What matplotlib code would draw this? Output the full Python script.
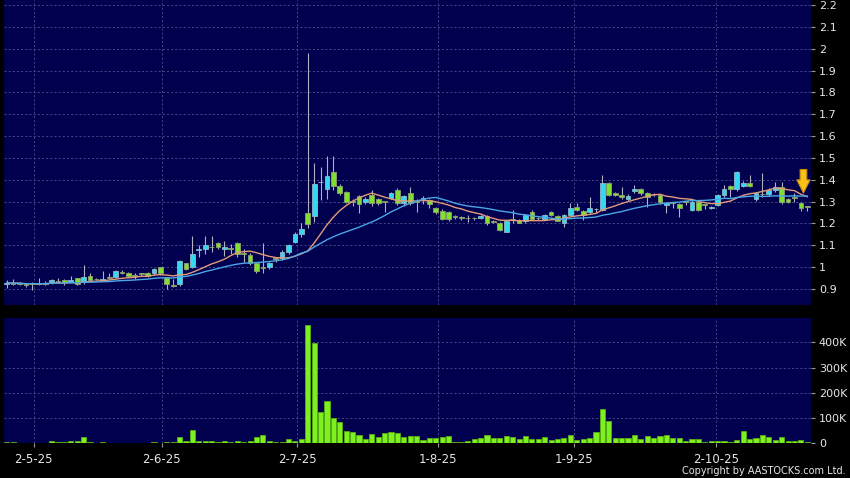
import matplotlib
matplotlib.use("Agg")
import matplotlib.pyplot as plt
import numpy as np
import pandas as pd

# ---------------- data ----------------
opens = [0.923, 0.928, 0.928, 0.920, 0.929, 0.929, 0.927, 0.932, 0.935, 0.941,
         0.932, 0.950, 0.930, 0.958, 0.945, 0.940, 0.950, 0.956, 0.980, 0.972,
         0.962, 0.970, 0.972, 0.972, 0.999, 0.953, 0.915, 0.921, 1.017, 0.999,
         1.080, 1.082, 1.092, 1.110, 1.082, 1.087, 1.110, 1.064, 1.057, 1.017,
         1.000, 0.999, 1.037, 1.040, 1.068, 1.117, 1.150, 1.249, 1.234, 1.388,
         1.356, 1.437, 1.371, 1.345, 1.300, 1.326, 1.298, 1.330, 1.310, 1.298,
         1.315, 1.353, 1.292, 1.338, 1.300, 1.310, 1.307, 1.270, 1.258, 1.251,
         1.229, 1.226, 1.224, 1.224, 1.227, 1.236, 1.209, 1.200, 1.162, 1.217,
         1.216, 1.211, 1.251, 1.224, 1.219, 1.251, 1.236, 1.200, 1.239, 1.277,
         1.258, 1.251, 1.264, 1.262, 1.387, 1.338, 1.330, 1.310, 1.348, 1.356,
         1.338, 1.334, 1.330, 1.284, 1.296, 1.289, 1.298, 1.262, 1.300, 1.285,
         1.272, 1.284, 1.330, 1.371, 1.356, 1.371, 1.387, 1.310, 1.334, 1.333,
         1.353, 1.368, 1.310, 1.318, 1.295, 1.275]
highs = [0.940, 0.947, 0.930, 0.928, 0.930, 0.949, 0.935, 0.947, 0.949, 0.944,
         0.959, 0.952, 1.010, 0.972, 0.950, 0.984, 0.972, 0.985, 0.985, 0.978,
         0.975, 0.975, 0.980, 0.995, 1.000, 0.955, 0.944, 1.035, 1.020, 1.143,
         1.100, 1.143, 1.143, 1.115, 1.120, 1.105, 1.115, 1.085, 1.065, 1.020,
         1.109, 1.025, 1.045, 1.080, 1.105, 1.160, 1.200, 1.980, 1.478, 1.460,
         1.509, 1.509, 1.380, 1.350, 1.310, 1.330, 1.320, 1.353, 1.315, 1.300,
         1.345, 1.360, 1.330, 1.368, 1.310, 1.325, 1.310, 1.275, 1.265, 1.255,
         1.238, 1.232, 1.238, 1.230, 1.240, 1.240, 1.215, 1.205, 1.215, 1.262,
         1.220, 1.245, 1.262, 1.230, 1.245, 1.255, 1.240, 1.245, 1.295, 1.295,
         1.260, 1.320, 1.270, 1.422, 1.390, 1.345, 1.368, 1.335, 1.376, 1.360,
         1.342, 1.340, 1.335, 1.300, 1.300, 1.295, 1.305, 1.310, 1.305, 1.290,
         1.280, 1.335, 1.376, 1.375, 1.440, 1.395, 1.422, 1.345, 1.430, 1.360,
         1.391, 1.391, 1.315, 1.340, 1.300, 1.280]
lows = [0.905, 0.920, 0.918, 0.910, 0.897, 0.920, 0.920, 0.925, 0.928, 0.920,
        0.930, 0.920, 0.925, 0.935, 0.940, 0.935, 0.945, 0.952, 0.970, 0.955,
        0.945, 0.960, 0.955, 0.965, 0.965, 0.900, 0.910, 0.915, 0.985, 0.995,
        1.048, 1.060, 1.070, 1.085, 1.050, 1.060, 1.045, 1.025, 1.010, 0.975,
        0.972, 0.990, 1.025, 1.035, 1.060, 1.109, 1.140, 1.178, 1.208, 1.307,
        1.310, 1.353, 1.330, 1.295, 1.280, 1.250, 1.290, 1.280, 1.285, 1.254,
        1.310, 1.285, 1.280, 1.285, 1.254, 1.290, 1.270, 1.245, 1.215, 1.213,
        1.220, 1.218, 1.208, 1.215, 1.220, 1.195, 1.200, 1.165, 1.160, 1.200,
        1.200, 1.200, 1.215, 1.215, 1.215, 1.235, 1.210, 1.185, 1.235, 1.255,
        1.216, 1.245, 1.250, 1.255, 1.325, 1.325, 1.310, 1.305, 1.340, 1.330,
        1.277, 1.325, 1.290, 1.246, 1.270, 1.231, 1.285, 1.255, 1.255, 1.265,
        1.265, 1.280, 1.320, 1.323, 1.350, 1.365, 1.365, 1.305, 1.320, 1.325,
        1.345, 1.290, 1.295, 1.300, 1.255, 1.255]
closes = [0.929, 0.925, 0.925, 0.918, 0.923, 0.925, 0.925, 0.941, 0.934, 0.932,
          0.940, 0.925, 0.956, 0.940, 0.944, 0.948, 0.949, 0.981, 0.975, 0.958,
          0.961, 0.968, 0.960, 0.990, 0.972, 0.921, 0.914, 1.030, 0.990, 1.059,
          1.082, 1.100, 1.090, 1.090, 1.090, 1.085, 1.060, 1.062, 1.018, 0.982,
          0.998, 1.019, 1.036, 1.070, 1.100, 1.150, 1.173, 1.197, 1.380, 1.391,
          1.419, 1.371, 1.338, 1.300, 1.298, 1.289, 1.310, 1.292, 1.292, 1.297,
          1.338, 1.292, 1.325, 1.292, 1.299, 1.318, 1.289, 1.251, 1.219, 1.219,
          1.228, 1.225, 1.223, 1.223, 1.236, 1.200, 1.208, 1.170, 1.213, 1.216,
          1.204, 1.239, 1.219, 1.223, 1.239, 1.239, 1.213, 1.239, 1.269, 1.262,
          1.239, 1.269, 1.266, 1.387, 1.330, 1.330, 1.320, 1.327, 1.356, 1.338,
          1.320, 1.333, 1.297, 1.295, 1.295, 1.269, 1.297, 1.300, 1.262, 1.284,
          1.277, 1.330, 1.356, 1.356, 1.437, 1.387, 1.371, 1.338, 1.333, 1.351,
          1.368, 1.300, 1.300, 1.316, 1.272, 1.274]
volumes_k = [4, 4, 1, 2, 3, 1, 3, 9, 4, 5,
             9, 9, 24, 7, 2, 4, 2, 3, 3, 3,
             1, 1, 2, 6, 2, 6, 4, 25, 9, 53,
             11, 9, 9, 7, 10, 4, 11, 5, 9, 25,
             32, 11, 4, 6, 18, 11, 19, 468, 396, 125,
             168, 99, 84, 47, 45, 33, 18, 35, 25, 41,
             44, 40, 25, 28, 28, 15, 20, 22, 26, 29,
             6, 6, 9, 16, 20, 33, 20, 20, 29, 26,
             16, 29, 17, 17, 24, 13, 16, 22, 32, 14,
             16, 20, 44, 135, 88, 22, 22, 20, 34, 17,
             28, 22, 29, 33, 20, 21, 9, 16, 16, 4,
             9, 9, 9, 4, 14, 50, 18, 20, 32, 25,
             13, 26, 9, 9, 14, 6]

date_labels = ["2-5-25", "2-6-25", "2-7-25", "1-8-25", "1-9-25", "2-10-25"]
date_pos = [4.2, 24.2, 45.4, 67.4, 88.5, 110.7]
price_ticks = [0.9, 1.0, 1.1, 1.2, 1.3, 1.4, 1.5, 1.6, 1.7, 1.8, 1.9, 2.0, 2.1, 2.2]
price_labels = ["0.9", "1", "1.1", "1.2", "1.3", "1.4", "1.5", "1.6", "1.7",
                "1.8", "1.9", "2", "2.1", "2.2"]
vol_ticks_k = [0, 100, 200, 300, 400]
vol_labels = ["0", "100K", "200K", "300K", "400K"]
ma_periods = [10, 20]

# ---------------- style ----------------
FIG_BG = "#000000"
PANEL_BG = "#00004e"
GRID = "#50508a"
UP = "#33d9ef"
DOWN = "#80e030"
UP_EDGE = "#8fb8c8"
DOWN_EDGE = "#8fa070"
WICK = "#b0b0c0"
VOL = "#7ef020"
VOL_EDGE = "#58b010"
MA_COLORS = ["#e49a78", "#4aa6e6"]
TXT = "#e6e6e6"

o = np.array(opens); h = np.array(highs); l = np.array(lows); c = np.array(closes)
v = np.array(volumes_k) * 1000.0
n = len(c)
x = np.arange(n)

W, H = 850, 478
fig = plt.figure(figsize=(W / 100, H / 100), dpi=100, facecolor=FIG_BG)
left_px, right_px = 3.5, 810.5
ax = fig.add_axes([left_px / W, 1 - 305 / H, (right_px - left_px) / W, 305 / H])
axv = fig.add_axes([left_px / W, 1 - 443.3 / H, (right_px - left_px) / W, 125 / H])

for a in (ax, axv):
    a.set_facecolor(PANEL_BG)
    for s in a.spines.values():
        s.set_visible(False)
    a.set_xlim(-0.5, n - 0.5)
    a.yaxis.tick_right()
    a.tick_params(axis="y", which="both", length=3, width=0.8, color="#9a9a9a",
                  labelcolor=TXT, labelsize=8, pad=3)
    a.set_xticks(date_pos)
    a.grid(True, color=GRID, linestyle=(0, (2.5, 2.5)), linewidth=0.6)
    a.set_axisbelow(True)

# ---- price panel ----
ax.set_ylim(0.8268, 2.2227)
ax.set_yticks(price_ticks)
ax.set_yticklabels(price_labels)
ax.tick_params(axis="x", length=0, labelbottom=False)

up = c >= o
body_lo = np.minimum(o, c)
body_h = np.maximum(np.abs(c - o), 0.004)
ax.vlines(x, l, h, color=WICK, linewidth=0.8, zorder=2)
ax.bar(x[up], body_h[up], bottom=body_lo[up], width=0.74, color=UP,
       edgecolor=UP_EDGE, linewidth=0.6, zorder=3)
ax.bar(x[~up], body_h[~up], bottom=body_lo[~up], width=0.74, color=DOWN,
       edgecolor=DOWN_EDGE, linewidth=0.6, zorder=3)

cs = pd.Series(c)
for p, col in zip(ma_periods, MA_COLORS):
    ma = cs.rolling(p, min_periods=1).mean()
    ax.plot(x, ma, color=col, linewidth=1.0, zorder=4)

# yellow arrow marker near latest bar
ax.annotate("", xy=(n - 1.6, 1.339), xytext=(n - 1.6, 1.447),
            arrowprops=dict(arrowstyle="simple,head_length=0.95,head_width=0.95,tail_width=0.48",
                            fc="#f7c21a", ec="#c98a00", lw=0.8, shrinkA=0, shrinkB=0,
                            mutation_scale=10), zorder=6)

# ---- volume panel ----
axv.set_ylim(0, 495000)
axv.set_yticks([t * 1000 for t in vol_ticks_k])
axv.set_yticklabels(vol_labels)
axv.bar(x, v, width=0.8, color=VOL, edgecolor=VOL_EDGE, linewidth=0.6, zorder=3)
axv.set_xticklabels(date_labels)
axv.tick_params(axis="x", length=3, width=0.8, color="#9a9a9a", labelcolor=TXT,
                labelsize=8.5, pad=4, direction="out")

fig.text(846 / W, 1 - 471.5 / H, "Copyright by AASTOCKS.com Ltd.", ha="right",
         va="center", fontsize=7, color=TXT)

fig.savefig("out.png", dpi=100, facecolor=FIG_BG)
